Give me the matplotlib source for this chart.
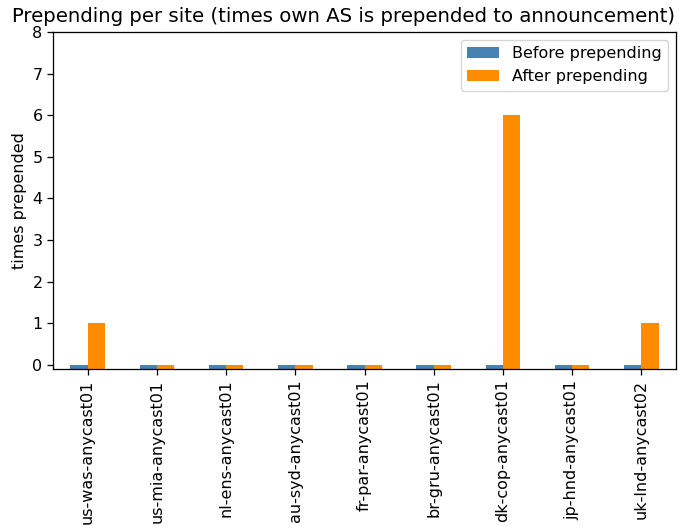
import numpy as np
import matplotlib
matplotlib.use("Agg")
import matplotlib.pyplot as plt

sites = ["us-was-anycast01", "us-mia-anycast01", "nl-ens-anycast01", "au-syd-anycast01",
         "fr-par-anycast01", "br-gru-anycast01", "dk-cop-anycast01", "jp-hnd-anycast01",
         "uk-lnd-anycast02"]
before = [0, 0, 0, 0, 0, 0, 0, 0, 0]
after = [1, 0, 0, 0, 0, 0, 6, 0, 1]

# reference was rendered at a bigger scale, so bump sizes a bit
s = 1.15
plt.rcParams["font.size"] = 10 * s
plt.rcParams["axes.linewidth"] = 0.8 * s
plt.rcParams["xtick.major.size"] = 3.5 * s
plt.rcParams["ytick.major.size"] = 3.5 * s
plt.rcParams["xtick.major.width"] = 0.8 * s
plt.rcParams["ytick.major.width"] = 0.8 * s

ymin = -0.1
x = np.arange(len(sites))
w = 0.25

fig = plt.figure(figsize=(6.88, 5.26), dpi=100)
ax = fig.add_axes([0.077, 0.2985, 0.9056, 0.6407])
ax.bar(x - w / 2, np.array(before) - ymin, w, bottom=ymin, color="steelblue", label="Before prepending")
ax.bar(x + w / 2, np.array(after) - ymin, w, bottom=ymin, color="darkorange", label="After prepending")
ax.set_xticks(x)
ax.set_xticklabels(sites, rotation=90)
ax.set_xlim(-0.5, len(sites) - 0.5)
ax.set_ylim(ymin, 8)
ax.set_ylabel("times prepended")
# title is wider than the axes in the reference, centred on the figure
fig.text(0.5, 0.95, "Prepending per site (times own AS is prepended to announcement)",
         ha="center", va="bottom", fontsize=14.2)
ax.legend(loc="upper right")

fig.savefig("out.png", dpi=100)
